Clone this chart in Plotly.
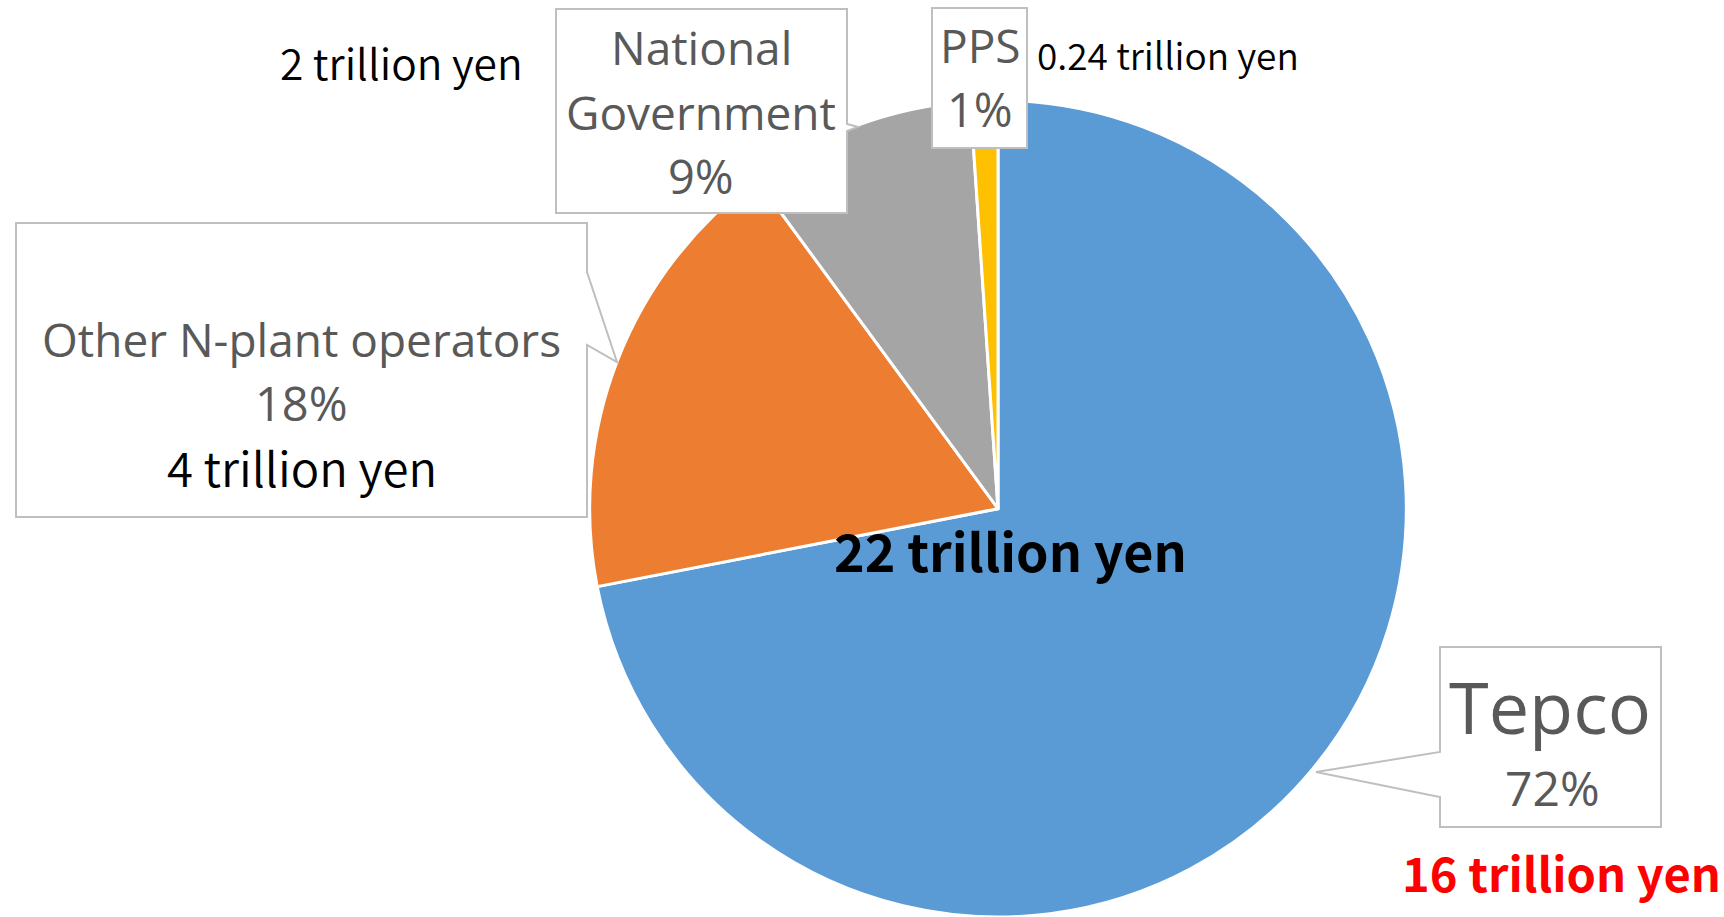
import plotly.graph_objects as go

# ---- data ----
labels = ["Tepco", "Other N-plant operators", "National Government", "PPS"]
values = [16, 4, 2, 0.24]
amount_texts = ["16 trillion yen", "4 trillion yen", "2 trillion yen", "0.24 trillion yen"]
colors = ["#5B9BD5", "#ED7D31", "#A5A5A5", "#FFC000"]
total = sum(values)
pcts = [f"{round(v / total * 100)}%" for v in values]
total_text = f"{round(total)} trillion yen"

W, H = 1724, 917
GRAY = "#595959"
LABEL_FONT = "Open Sans"
JP_FONT = "Noto Sans CJK JP"

fig = go.Figure()
fig.add_trace(go.Pie(
    labels=labels, values=values, sort=False, direction="clockwise", rotation=0,
    marker=dict(colors=colors, line=dict(color="white", width=3)),
    textinfo="none", hoverinfo="label+percent+value", showlegend=False,
    domain=dict(x=[589 / W, 1407 / W], y=[0, 0.8906]),
))

# callout boxes (pixel coords via hidden axes)
box_line = dict(color="#BFBFBF", width=2)
callouts = [
    "M1440,647 H1661 V827 H1440 V797 L1316,772 L1440,752 Z",
    "M16,223 H587 V272 L617,362 L587,345 V517 H16 Z",
    "M556,9 H847 V124 L858,127 L847,131 V213 H556 Z",
    "M932,8 H1027 V148 H932 Z",
]
for p in callouts:
    fig.add_shape(type="path", path=p, xref="x", yref="y", fillcolor="white",
                  line=box_line, layer="above")

def txt(s, x, base, size, color=GRAY, family=LABEL_FONT, weight="normal", off=0.40):
    fig.add_annotation(text=s, x=x, y=base - off * size, xref="x", yref="y",
                       xanchor="center", yanchor="middle", showarrow=False,
                       font=dict(size=size, color=color, family=family, weight=weight))

# Tepco
txt(labels[0], 1550, 735, 72)
txt(pcts[0], 1552, 807, 48)
txt(amount_texts[0], 1561, 892, 47, color="#FF0000", family=JP_FONT, weight="bold", off=0.44)
# Other
txt("Other N-plant operators", 301, 357, 46)
txt(pcts[1], 301, 422, 47)
txt(amount_texts[1], 302, 487, 47.3, color="black", family=JP_FONT, weight=350, off=0.44)
# National Government
txt("National", 701, 65, 46)
txt("Government", 701, 130, 46)
txt(pcts[2], 701, 195, 47)
txt(amount_texts[2], 401, 80, 42.5, color="black", family=JP_FONT, weight=350, off=0.44)
# PPS
txt(labels[3], 980, 63, 46)
txt(pcts[3], 980, 128, 47)
txt(amount_texts[3], 1168, 70, 37, color="black", family=JP_FONT, weight=350, off=0.44)
# total
txt(total_text, 1010, 572, 52, color="black", family=JP_FONT, weight="bold", off=0.44)

fig.update_layout(
    width=W, height=H, margin=dict(l=0, r=0, t=0, b=0),
    paper_bgcolor="white", plot_bgcolor="rgba(0,0,0,0)",
    xaxis=dict(range=[0, W], visible=False, fixedrange=True),
    yaxis=dict(range=[H, 0], visible=False, fixedrange=True),
)
fig.write_html("out.html")
